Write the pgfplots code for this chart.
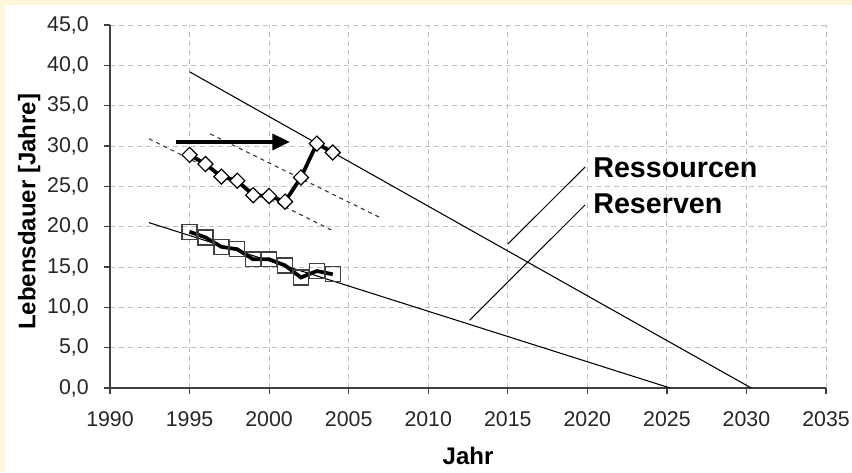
\documentclass[border=0pt]{standalone}
\usepackage{pgfplots}
\pgfplotsset{compat=1.18}
\usepackage{fontspec}
\setmainfont{Liberation Sans}
\usetikzlibrary{arrows.meta}
\definecolor{cream}{RGB}{255,246,218}
\definecolor{gridgray}{RGB}{192,192,192}
\definecolor{axgray}{RGB}{64,64,64}
\begin{document}
\begin{tikzpicture}
\useasboundingbox (0pt,0pt) rectangle (639pt,354pt);
\fill[white] (0pt,0pt) rectangle (639pt,354pt);
\fill[cream] (0pt,0pt) rectangle (3.75pt,354pt);
\fill[cream] (0pt,350.25pt) rectangle (639pt,354pt);
\begin{axis}[
  at={(82.5pt,63pt)}, anchor=south west,
  scale only axis, width=537pt, height=272.25pt,
  xmin=1990, xmax=2035, ymin=0, ymax=45,
  xtick distance=5, ytick distance=5,
  axis x line*=bottom, axis y line*=left,
  axis line style={axgray, line width=1.1pt, -},
  tick align=outside, major tick length=4.5pt,
  tick style={axgray, line width=0.9pt},
  grid=major,
  major grid style={gridgray, line width=0.75pt, dash pattern=on 3.75pt off 3pt},
  tick label style={font=\fontsize{16}{18}\selectfont, text=black!85},
  /pgf/number format/assume math mode=true,
  xticklabel style={/pgf/number format/1000 sep={}, yshift=-9.5pt},
  yticklabel style={/pgf/number format/.cd, fixed, fixed zerofill, precision=1, use comma, 1000 sep={}, /tikz/.cd, xshift=-7.9pt},
  xlabel={Jahr},
  ylabel={Lebensdauer [Jahre]},
  every axis x label/.style={at={(axis description cs:0.5,-0.187)}, anchor=center, font=\fontsize{18}{20}\selectfont\bfseries},
  every axis y label/.style={at={(axis description cs:-0.113,0.485)}, anchor=center, rotate=90, font=\fontsize{18}{20}\selectfont\bfseries},
  clip=false,
]
% Trend lines
\addplot[black, line width=0.8pt, no marks] coordinates {(1995,39.2) (2030.3,0)};
\addplot[black, line width=0.8pt, no marks] coordinates {(1992.45,20.5) (2025.2,0)};
% Dashed parallels
\addplot[black!80, line width=0.8pt, dash pattern=on 3pt off 3pt, no marks] coordinates {(1992.45,30.9) (2003.9,19.6)};
\addplot[black!80, line width=0.8pt, dash pattern=on 3pt off 3pt, no marks] coordinates {(1996.3,31.5) (2006.9,21.2)};
% Arrow
\addplot[black, line width=2.3pt, no marks, -{Triangle[length=13pt, width=12pt]}] coordinates {(1994.15,30.5) (2001.3,30.5)};
% Leader lines
\addplot[black, line width=0.75pt, no marks] coordinates {(2019.86,27.4) (2015.0,17.84)};
\addplot[black, line width=0.75pt, no marks] coordinates {(2019.86,22.7) (2012.6,8.4)};
% Reserves (squares)
\addplot[black, line width=2.8pt, mark=square, mark size=5.6pt,
  mark options={draw=axgray, line width=1pt, fill=none, solid}] coordinates {
(1995,19.37) (1996,18.67) (1997,17.5) (1998,17.2) (1999,15.95)
(2000,15.95) (2001,15.2) (2002,13.7) (2003,14.5) (2004,14.1)};
% Resources (diamonds)
\addplot[black, line width=2.8pt, mark=square*, mark size=4pt,
  mark options={draw=black, fill=white, line width=0.9pt, rotate=45, solid}] coordinates {
(1995,28.9) (1996,27.76) (1997,26.2) (1998,25.7) (1999,23.9)
(2000,23.8) (2001,23.1) (2002,26.1) (2003,30.3) (2004,29.2)};
% Annotations
\node[anchor=base west, font=\fontsize{21.5}{24}\selectfont\bfseries, inner sep=0pt] at (axis cs:2020.36,26.1) {Ressourcen};
\node[anchor=base west, font=\fontsize{21.5}{24}\selectfont\bfseries, inner sep=0pt] at (axis cs:2020.36,21.6) {Reserven};
\end{axis}
\end{tikzpicture}
\end{document}
